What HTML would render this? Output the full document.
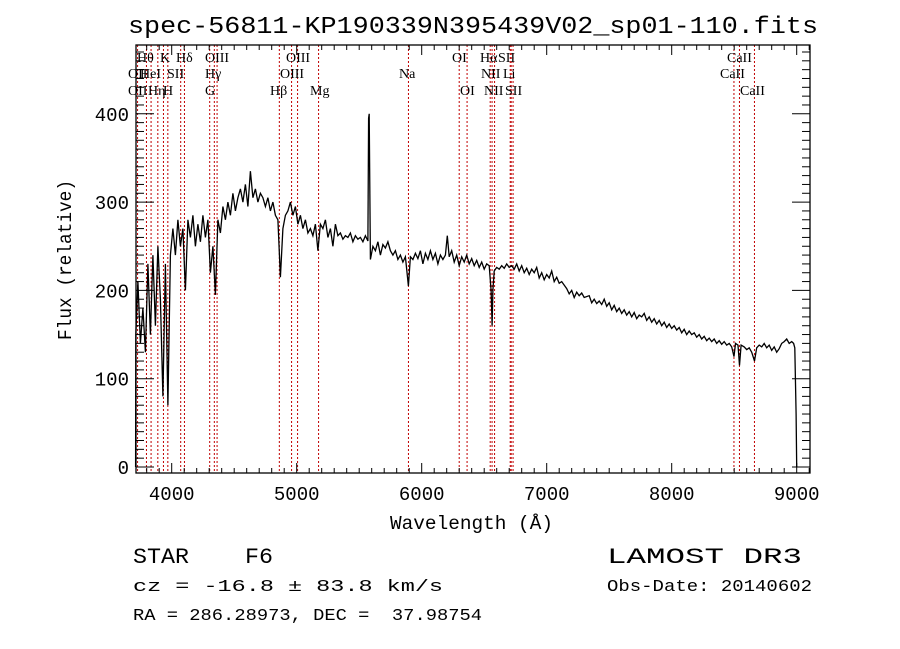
<!DOCTYPE html>
<html><head><meta charset="utf-8">
<style>
html,body{margin:0;padding:0;background:#fff;}
svg{display:block;}
text{fill:#000;white-space:pre;}
.t{font-family:"Liberation Mono","Liberation Sans",monospace;}
.s{font-family:"Liberation Serif",serif;font-size:14px;}
</style></head>
<body>
<svg id="chart" width="900" height="649" viewBox="0 0 900 649" xmlns="http://www.w3.org/2000/svg">
<rect width="900" height="649" fill="#fff"/>
<text class="t" x="128" y="33" font-size="24" textLength="690" lengthAdjust="spacingAndGlyphs">spec-56811-KP190339N395439V02_sp01-110.fits</text>
<g id="lines"></g>
<g id="labels"></g>
<g id="spec"></g>
<g id="axes"></g>
<text class="t" transform="translate(71,260) rotate(-90)" text-anchor="middle" font-size="19" textLength="160" lengthAdjust="spacingAndGlyphs">Flux (relative)</text>
<text class="t" x="390" y="529" font-size="19" textLength="163" lengthAdjust="spacingAndGlyphs">Wavelength (Å)</text>
<text class="t" x="133" y="563" font-size="22" textLength="140" lengthAdjust="spacingAndGlyphs" xml:space="preserve">STAR    F6</text>
<text class="t" x="133" y="591" font-size="17" textLength="310" lengthAdjust="spacingAndGlyphs" xml:space="preserve">cz = -16.8 ± 83.8 km/s</text>
<text class="t" x="133" y="620" font-size="17" textLength="349" lengthAdjust="spacingAndGlyphs" xml:space="preserve">RA = 286.28973, DEC =  37.98754</text>
<text class="t" x="607" y="563" font-size="22" textLength="195" lengthAdjust="spacingAndGlyphs" xml:space="preserve">LAMOST DR3</text>
<text class="t" x="607" y="591" font-size="17" textLength="205" lengthAdjust="spacingAndGlyphs">Obs-Date: 20140602</text>
</svg>
<script>
const waves=[3711,3713,3730,3750,3770,3790,3810,3830,3850,3870,3890,3910,3930,3950,3970,3990,4010,4030,4050,4070,4090,4110,4130,4150,4170,4190,4210,4230,4250,4270,4290,4310,4330,4350,4370,4390,4410,4430,4450,4470,4490,4510,4530,4550,4570,4590,4610,4630,4650,4670,4690,4710,4730,4750,4770,4790,4810,4830,4850,4870,4890,4910,4930,4950,4970,4990,5010,5030,5050,5070,5090,5110,5130,5150,5170,5190,5210,5230,5250,5270,5290,5310,5330,5350,5370,5390,5410,5430,5450,5470,5490,5510,5530,5550,5570,5575,5580,5590,5610,5630,5650,5670,5690,5710,5730,5750,5770,5790,5810,5830,5850,5870,5894,5910,5930,5950,5970,5990,6010,6030,6050,6070,6090,6110,6130,6150,6170,6190,6205,6220,6240,6260,6280,6300,6320,6340,6360,6380,6400,6420,6440,6460,6480,6500,6520,6540,6555,6563,6570,6580,6600,6620,6640,6660,6680,6700,6720,6740,6760,6780,6800,6820,6840,6860,6880,6900,6920,6940,6960,6980,7000,7020,7040,7060,7080,7100,7120,7140,7160,7180,7200,7220,7240,7260,7280,7300,7340,7360,7380,7400,7420,7440,7460,7480,7500,7520,7540,7560,7580,7600,7620,7640,7660,7680,7700,7720,7740,7760,7780,7800,7820,7840,7860,7880,7900,7920,7940,7960,7980,8000,8020,8040,8060,8080,8100,8120,8140,8160,8180,8200,8220,8240,8260,8280,8300,8320,8340,8360,8380,8400,8420,8440,8460,8480,8498,8510,8530,8542,8555,8580,8600,8620,8640,8662,8680,8700,8720,8740,8760,8780,8800,8820,8840,8860,8880,8900,8920,8940,8960,8975,8985,8995,9000];
const flux=[0,150,210,140,180,130,230,150,240,160,250,190,80,230,70,240,270,240,280,250,270,200,280,260,285,250,275,255,285,260,280,220,250,195,280,265,295,280,300,285,310,290,305,315,300,320,295,335,305,315,300,310,305,295,305,290,300,285,280,215,270,285,290,300,285,295,275,285,270,280,265,270,262,275,245,275,270,280,260,270,250,275,262,265,258,262,260,265,255,262,258,260,255,262,256,395,400,235,250,245,255,240,252,248,255,245,240,245,235,240,232,238,205,238,235,242,236,245,230,242,235,245,235,242,230,240,235,240,262,238,245,232,240,228,238,232,240,230,236,228,234,226,232,224,230,228,200,160,200,222,226,224,228,225,230,226,228,224,230,222,228,220,225,218,224,220,226,214,220,212,218,214,222,210,215,208,210,206,202,196,200,192,198,194,197,192,194,186,190,185,188,184,190,182,186,178,183,176,180,174,178,172,176,170,175,168,172,170,174,166,170,164,168,162,166,160,164,158,162,157,160,155,158,152,156,150,154,150,152,147,150,145,148,143,146,142,145,140,143,139,142,138,140,136,125,140,138,115,138,136,133,135,130,120,135,138,136,140,135,138,132,136,130,134,140,142,145,140,142,140,135,60,0];
const lineWaves=[3727,3798,3835,3889,3934,3969,4072,4102,4304,4341,4363,4861,4959,5007,5175,5894,6300,6363,6548,6563,6583,6708,6716,6731,8498,8542,8662];
const lineLabels=[["Hθ",137,62],["K",160,62],["Hδ",176,62],["OIII",205,62],["OIII",286,62],["OI",452,62],["Hα",480,62],["SII",498,62],["CaII",727,62],
["OII",128,78],["HeI",140,78],["SII",167,78],["Hγ",205,78],["OIII",280,78],["Na",399,78],["NII",481,78],["Li",503,78],["CaII",720,78],
["OII",128,95],["Hη",148,95],["H",163,95],["G",205,95],["Hβ",270,95],["Mg",310,95],["OI",460,95],["NII",484,95],["SII",505,95],["CaII",740,95]];
const xTicks=[4000,5000,6000,7000,8000,9000];
const yTicks=[0,100,200,300,400];

const NS="http://www.w3.org/2000/svg";
const L=136,R=810,T=45,B=473;
function xs(w){return 171.7+(w-4000)*0.125;}
function ys(f){return 467-f*0.883;}
function mk(tag,attrs,parent){const e=document.createElementNS(NS,tag);for(const k in attrs)e.setAttribute(k,attrs[k]);parent.appendChild(e);return e;}

const gl=document.getElementById('lines');
lineWaves.forEach(w=>{
  const l=mk('line',{x1:xs(w),x2:xs(w),y1:T,y2:B,stroke:'#c00000','stroke-width':1,'stroke-dasharray':'2,2'},gl);
  
  
});
const glb=document.getElementById('labels');
lineLabels.forEach(a=>{
  const t=mk('text',{x:a[1],y:a[2],class:'s'},glb);
  t.textContent=a[0];
  
  
});
const gs=document.getElementById('spec');
let d='';
for(let i=0;i<waves.length;i++){
  const x=xs(waves[i]),y=ys(flux[i]);
  d+=(i===0?'M':'L')+x.toFixed(1)+' '+y.toFixed(1)+' ';
}
const p=mk('path',{d:d,fill:'none',stroke:'#000','stroke-width':1.3,'stroke-linejoin':'miter'},gs);



const ga=document.getElementById('axes');
const box=mk('rect',{x:L,y:T,width:R-L,height:B-T,fill:'none',stroke:'#000','stroke-width':1.3},ga);


for(let w=3800;w<=9100;w+=100){
  const x=xs(w),major=(w%1000===0),len=major?10:5;
  mk('line',{x1:x,x2:x,y1:B,y2:B-len,stroke:'#000','stroke-width':1},ga);
  mk('line',{x1:x,x2:x,y1:T,y2:T+len,stroke:'#000','stroke-width':1},ga);
}
for(let f=0;f<=470;f+=10){
  const y=ys(f),major=(f%100===0),len=major?18:8;
  mk('line',{x1:L,x2:L+len,y1:y,y2:y,stroke:'#000','stroke-width':1},ga);
  mk('line',{x1:R,x2:R-len,y1:y,y2:y,stroke:'#000','stroke-width':1},ga);
}
xTicks.forEach(w=>{
  const t=mk('text',{x:xs(w),y:500,'text-anchor':'middle',class:'t','font-size':19},ga);
  t.textContent=w;
  
  
});
yTicks.forEach(f=>{
  const t=mk('text',{x:129,y:ys(f)+7,'text-anchor':'end',class:'t','font-size':19},ga);
  t.textContent=f;
  
  
});
</script>
</body></html>
